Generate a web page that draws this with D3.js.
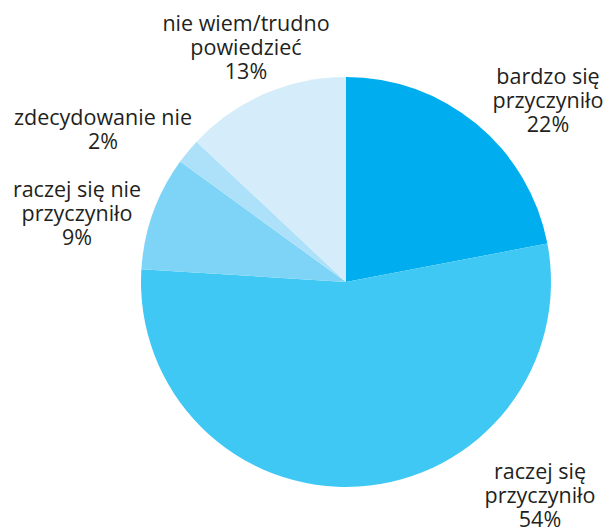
<!DOCTYPE html>
<html>
<head>
<meta charset="utf-8">
<script src="https://cdn.jsdelivr.net/npm/d3@7"></script>
<style>
	body { margin: 0; background: #fff; }
	.label { font-family: "Open Sans", sans-serif; font-size: 21.5px; fill: #231f20; }
</style>
</head>
<body>
<div class="chart"></div>
<script>
	const categories = ["bardzo się|przyczyniło", "raczej się|przyczyniło", "raczej się nie|przyczyniło", "zdecydowanie nie", "nie wiem/trudno|powiedzieć"];
	const values = [22, 54, 9, 2, 13];
	const colors = ["#00aeef", "#40c8f4", "#7dd4f6", "#ade1f9", "#d5edfa"];
	// label anchor (centre x, first baseline y)
	const labelPos = [[548, 84], [540, 479], [77, 197], [103, 125], [246, 31]];

	const width = 613, height = 531,
		cx = 346, cy = 282, radius = 205;

	const svg = d3.select(".chart").append("svg")
		.attr("width", width)
		.attr("height", height);

	const pie = d3.pie().sort(null).value(d => d);
	const arc = d3.arc().innerRadius(0).outerRadius(radius);

	const g = svg.append("g")
		.attr("transform", `translate(${cx},${cy})`);

	g.selectAll(".arc")
		.data(pie(values))
		.enter().append("path")
		.attr("class", "arc")
		.attr("d", arc)
		.attr("fill", (d, i) => colors[i]);

	const labels = svg.selectAll(".label")
		.data(categories)
		.enter().append("text")
		.attr("class", "label")
		.attr("text-anchor", "middle")
		.attr("transform", (d, i) => `translate(${labelPos[i][0]},${labelPos[i][1]})`);

	labels.each(function(d, i) {
		const lines = d.split("|").concat([values[i] + "%"]);
		d3.select(this).selectAll("tspan")
			.data(lines)
			.enter().append("tspan")
			.attr("x", 0)
			.attr("y", (l, j) => j * 24)
			.text(l => l);
	});
</script>
</body>
</html>
